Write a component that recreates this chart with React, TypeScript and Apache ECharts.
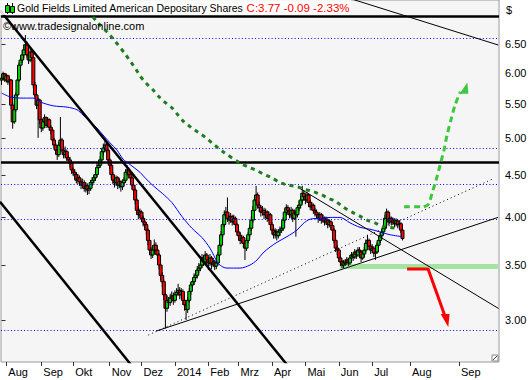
import React, { useEffect, useRef } from "react";
import * as echarts from "echarts";

const FONT = "'Liberation Sans', Arial, sans-serif";

// daily candles [open, close, low, high], index = trading day (0 = 29 Jul 2013)
const candles: number[][] = [
  [5.88,5.91,5.80,5.98],[5.91,5.98,5.88,6.02],[5.98,5.88,5.85,6.00],[5.88,5.95,5.84,5.99],[5.95,5.85,5.80,5.97],
  [5.85,5.88,5.78,5.93],[5.88,5.48,5.42,5.90],[5.48,5.23,5.13,5.52],[5.23,5.41,5.20,5.45],[5.41,5.64,5.38,5.68],
  [5.64,5.88,5.60,5.92],[5.88,6.13,5.85,6.18],[6.13,6.22,6.08,6.30],[6.22,6.31,6.17,6.40],[6.31,6.40,6.25,6.50],
  [6.40,6.49,6.35,6.67],[6.49,6.31,6.26,6.55],[6.31,6.22,6.15,6.35],[6.22,6.36,6.18,6.42],[6.36,6.26,6.20,6.40],
  [6.26,5.80,5.75,6.28],[5.80,5.64,5.58,5.85],[5.64,5.48,5.42,5.68],[5.48,5.56,5.00,5.60],[5.56,5.26,5.20,5.58],
  [5.26,5.14,5.08,5.28],[5.14,5.23,5.10,5.27],[5.23,5.29,5.18,5.34],[5.29,5.18,5.14,5.31],[5.18,5.26,5.15,5.30],
  [5.26,5.15,5.10,5.28],[5.15,5.11,5.05,5.18],[5.11,4.97,4.93,5.13],[4.97,4.90,4.85,5.00],[4.90,4.83,4.78,4.93],
  [4.83,4.77,4.70,4.86],[4.77,4.90,4.74,4.95],[4.90,4.97,4.86,5.30],[4.97,4.83,4.80,5.00],[4.83,4.77,4.72,4.86],
  [4.77,4.81,4.72,4.88],[4.81,4.73,4.68,4.84],[4.73,4.70,4.65,4.76],[4.70,4.66,4.60,4.74],[4.66,4.57,4.52,4.68],
  [4.57,4.54,4.49,4.60],[4.54,4.51,4.45,4.58],[4.51,4.44,4.40,4.54],[4.44,4.47,4.39,4.52],[4.47,4.42,4.37,4.50],
  [4.42,4.38,4.33,4.45],[4.38,4.41,4.34,4.46],[4.41,4.34,4.30,4.44],[4.34,4.37,4.29,4.41],[4.37,4.32,4.26,4.40],
  [4.32,4.34,4.27,4.38],[4.34,4.41,4.31,4.44],[4.41,4.44,4.37,4.48],[4.44,4.47,4.40,4.51],[4.47,4.51,4.43,4.55],
  [4.51,4.60,4.48,4.66],[4.60,4.63,4.56,4.70],[4.63,4.70,4.60,4.75],[4.70,4.81,4.67,4.85],[4.81,4.86,4.76,4.92],
  [4.86,4.90,4.80,5.00],[4.90,4.83,4.78,4.94],[4.83,4.70,4.66,4.85],[4.70,4.63,4.58,4.73],[4.63,4.51,4.46,4.65],
  [4.51,4.44,4.39,4.54],[4.44,4.41,4.35,4.47],[4.41,4.47,4.37,4.50],[4.47,4.38,4.33,4.49],[4.38,4.42,4.34,4.46],
  [4.42,4.36,4.30,4.44],[4.36,4.41,4.32,4.45],[4.41,4.44,4.37,4.48],[4.44,4.54,4.41,4.58],[4.54,4.57,4.50,4.63],
  [4.57,4.51,4.46,4.60],[4.51,4.47,4.42,4.54],[4.47,4.38,4.33,4.49],[4.38,4.32,4.26,4.40],[4.32,4.20,4.15,4.34],
  [4.20,4.08,4.03,4.22],[4.08,4.03,3.98,4.12],[4.03,4.06,3.99,4.10],[4.06,3.99,3.95,4.08],[3.99,3.95,3.90,4.02],
  [3.95,3.92,3.86,3.98],[3.92,3.86,3.81,3.94],[3.86,3.75,3.70,3.88],[3.75,3.65,3.60,3.77],[3.65,3.60,3.56,3.68],
  [3.60,3.65,3.57,3.70],[3.65,3.70,3.61,3.76],[3.70,3.65,3.60,3.73],[3.65,3.60,3.55,3.68],[3.60,3.50,3.46,3.62],
  [3.50,3.40,3.36,3.52],[3.40,3.34,3.29,3.43],[3.34,3.22,3.17,3.36],[3.22,3.10,2.93,3.24],[3.10,3.17,3.07,3.21],
  [3.17,3.15,3.10,3.20],[3.15,3.19,3.12,3.23],[3.19,3.21,3.16,3.25],[3.21,3.17,3.13,3.24],[3.17,3.22,3.15,3.26],
  [3.22,3.24,3.19,3.28],[3.24,3.26,3.21,3.32],[3.26,3.22,3.18,3.29],[3.22,3.25,3.19,3.28],[3.25,3.17,3.13,3.27],
  [3.17,3.13,3.08,3.19],[3.13,3.09,3.00,3.15],[3.09,3.17,3.06,3.20],[3.17,3.25,3.15,3.28],[3.25,3.31,3.22,3.34],
  [3.31,3.34,3.28,3.37],[3.34,3.38,3.31,3.42],[3.38,3.40,3.35,3.45],[3.40,3.45,3.37,3.49],[3.45,3.47,3.42,3.52],
  [3.47,3.50,3.44,3.55],[3.50,3.57,3.47,3.61],[3.57,3.53,3.49,3.60],[3.53,3.60,3.50,3.64],[3.60,3.55,3.50,3.62],
  [3.55,3.52,3.45,3.58],[3.52,3.57,3.49,3.61],[3.57,3.51,3.46,3.59],[3.51,3.53,3.48,3.57],[3.53,3.49,3.45,3.55],
  [3.49,3.52,3.46,3.56],[3.52,3.60,3.50,3.63],[3.60,3.70,3.58,3.74],[3.70,3.81,3.68,3.85],[3.81,3.92,3.78,3.96],
  [3.92,4.03,3.89,4.08],[4.03,4.06,3.99,4.12],[4.06,3.99,3.95,4.23],[3.99,3.97,3.92,4.03],[3.97,4.01,3.94,4.05],
  [4.01,3.95,3.91,4.03],[3.95,3.99,3.92,4.03],[3.99,3.92,3.88,4.01],[3.92,3.84,3.80,3.94],[3.84,3.80,3.75,3.87],
  [3.80,3.75,3.71,3.83],[3.75,3.78,3.72,3.81],[3.78,3.72,3.68,3.80],[3.72,3.67,3.55,3.74],[3.67,3.75,3.64,3.78],
  [3.75,3.81,3.72,3.84],[3.81,3.88,3.78,3.92],[3.88,3.97,3.85,4.01],[3.97,4.08,3.94,4.13],[4.08,4.20,4.05,4.26],
  [4.20,4.26,4.16,4.37],[4.26,4.14,4.10,4.29],[4.14,4.11,4.06,4.18],[4.11,4.06,4.01,4.14],[4.06,4.08,4.02,4.13],
  [4.08,4.03,3.98,4.11],[4.03,4.06,3.99,4.10],[4.06,3.99,3.95,4.08],[3.99,4.03,3.96,4.07],[4.03,3.92,3.88,4.05],
  [3.92,3.86,3.82,3.95],[3.86,3.81,3.77,3.89],[3.81,3.84,3.77,3.88],[3.84,3.80,3.75,3.87],[3.80,3.84,3.77,3.87],
  [3.84,3.86,3.80,3.90],[3.86,3.88,3.83,3.92],[3.88,3.97,3.85,4.00],[3.97,4.06,3.94,4.10],[4.06,4.11,4.02,4.15],
  [4.11,4.08,4.03,4.14],[4.08,4.03,3.99,4.11],[4.03,4.08,4.00,4.12],[4.08,3.99,3.95,4.10],[3.99,4.05,3.97,4.09],
  [4.05,4.03,3.79,4.08],[4.03,4.11,4.00,4.14],[4.11,4.14,4.07,4.19],[4.14,4.20,4.10,4.25],[4.20,4.28,4.16,4.37],
  [4.28,4.24,4.19,4.32],[4.24,4.20,4.15,4.27],[4.20,4.26,4.17,4.30],[4.26,4.17,4.12,4.28],[4.17,4.12,4.08,4.20],
  [4.12,4.14,4.08,4.18],[4.14,4.08,4.04,4.16],[4.08,4.06,4.01,4.11],[4.06,4.03,3.98,4.09],[4.03,3.99,3.94,4.05],
  [3.99,4.03,3.96,4.06],[4.03,3.97,3.93,4.05],[3.97,3.99,3.94,4.03],[3.99,3.95,3.91,4.01],[3.95,3.97,3.92,4.01],
  [3.97,3.92,3.88,3.99],[3.92,3.95,3.89,3.98],[3.95,3.91,3.86,3.97],[3.91,3.86,3.82,3.93],[3.86,3.75,3.72,3.88],
  [3.75,3.67,3.63,3.77],[3.67,3.65,3.60,3.70],[3.65,3.57,3.53,3.67],[3.57,3.53,3.49,3.59],[3.53,3.50,3.47,3.55],
  [3.50,3.52,3.47,3.55],[3.52,3.53,3.49,3.56],[3.53,3.55,3.50,3.58],[3.55,3.52,3.49,3.57],[3.52,3.57,3.50,3.60],
  [3.57,3.60,3.54,3.63],[3.60,3.58,3.54,3.62],[3.58,3.63,3.56,3.66],[3.63,3.60,3.56,3.65],[3.60,3.65,3.58,3.68],
  [3.65,3.63,3.59,3.68],[3.63,3.57,3.53,3.65],[3.57,3.61,3.55,3.64],[3.61,3.65,3.58,3.68],[3.65,3.72,3.63,3.76],
  [3.72,3.75,3.69,3.81],[3.75,3.69,3.65,3.77],[3.69,3.65,3.61,3.71],[3.65,3.67,3.62,3.71],[3.67,3.62,3.58,3.69],
  [3.62,3.63,3.55,3.66],[3.63,3.70,3.61,3.73],[3.70,3.75,3.67,3.78],[3.75,3.80,3.72,3.83],[3.80,3.84,3.77,3.87],
  [3.84,3.88,3.81,3.92],[3.88,3.99,3.86,4.03],[3.99,4.06,3.96,4.10],[4.06,3.95,3.91,4.08],[3.95,3.99,3.92,4.02],
  [3.99,3.95,3.91,4.01],[3.95,3.97,3.92,4.00],[3.97,3.93,3.89,3.99],[3.93,3.96,3.90,3.99],[3.96,3.92,3.88,3.98],
  [3.92,3.93,3.89,3.97],[3.93,3.86,3.83,3.95],[3.86,3.77,3.75,3.89],
];

// blue moving average [index, price]
const maShort: number[][] = [
  [0,5.67],[5.3,5.61],[11.6,5.59],[19.8,5.59],[24.2,5.53],[32.4,5.47],[41.2,5.45],[47.4,5.41],[51.2,5.33],
  [55.6,5.23],[60,5.14],[63.8,5.04],[68.2,4.93],[72.6,4.83],[76.4,4.71],[80.7,4.64],[87,4.54],[90.2,4.47],
  [95.4,4.37],[101,4.28],[107.1,4.17],[113.4,4.01],[119.7,3.88],[126,3.78],[131,3.67],[136,3.52],[139.2,3.48],
  [141.7,3.47],[149.9,3.47],[156.2,3.50],[160.6,3.55],[164.3,3.62],[168.7,3.68],[173.1,3.73],[179.4,3.79],
  [185.7,3.86],[189.5,3.93],[193.9,3.98],[200.2,3.99],[206.5,4.00],[212.7,4.00],[219,3.94],[225.3,3.89],
  [231.6,3.87],[237.9,3.84],[244.2,3.81],[251.7,3.79],
];

// dark green dashed long average [index, price]
const maLong: number[][] = [
  [57.5,7.02],[60,6.92],[66.9,6.71],[71.3,6.56],[77.6,6.33],[81.4,6.18],[84.5,6.06],[87,5.95],[90.8,5.83],
  [95.2,5.72],[99,5.61],[103.4,5.51],[107.1,5.44],[110.9,5.33],[114.7,5.23],[119.1,5.15],[123.5,5.08],
  [127.9,5.01],[132.3,4.93],[139.2,4.81],[149.9,4.66],[154.9,4.61],[160.6,4.56],[164.3,4.52],[170,4.47],
  [175,4.41],[180.1,4.38],[185.7,4.36],[190.1,4.33],[195.8,4.30],[201.4,4.26],[205.2,4.22],[209.6,4.19],
  [214.6,4.12],[220.3,4.06],[224.7,4.02],[229.7,3.97],[234.7,3.94],[239.1,3.90],[242.9,3.89],[249.2,3.88],
];

// trend lines [index, price]
const channelUpper: number[][] = [[-0.96,7.15],[181.3,2.619]];
const channelLower: number[][] = [[-0.96,4.18],[83.9,2.609]];
const supportSolid: number[][] = [[97.5,2.909],[312.04,4.0]];
const supportDotted: number[][] = [[92.25,2.876],[308.1,4.45]];
const resistFalling: number[][] = [[188.2,4.33],[312.4,3.098]];
const upperFalling: number[][] = [[212.7,7.457],[312.2,6.487]];

// horizontal levels
const blueLevels = [6.65, 4.87, 4.405, 3.99, 2.917];
const blackLevels = [7.06, 4.68];
const bandLevels = [3.51, 3.46];
const bandStart = 212.7;
const bandEnd = 312.0;

// projection arrows
const greenPath: number[][] = [[253,4.12],[264.9,4.12],[268.4,4.15],[270.6,4.28],[273.1,4.44],[275.6,4.63],[278.1,4.83],[280,5.04],[282.5,5.26],[285,5.48],[288.4,5.69]];
const greenHead: number[][] = [[287.9,5.66],[292.8,5.84],[293.4,5.66]];
const redPath: number[][] = [[254.9,3.461],[268.1,3.461],[278.7,3.034]];
const redHead: number[][] = [[276.0,3.051],[281.6,3.051],[280.8,2.942]];

// axes
const monthTicks = [3,25,45,68,88,109,130,149,170,191,212,233,256.7,287.5];
const monthLabels = ["Aug","Sep","Okt","Nov","Dez","2014","Feb","Mrz","Apr","Mai","Jun","Jul","Aug","Sep"];
const priceTicks = [3.0,3.5,4.0,4.5,5.0,5.5,6.0,6.5];
const priceMin = 2.6665;
const priceMax = 7.36;
const indexMin = -0.333;
const indexMax = 312.67;

const LN = Math.log;
const toXY = (pts: number[][]) => pts.map((p) => [p[0], LN(p[1])]);

function App() {
  const ref = useRef<HTMLDivElement>(null);
  useEffect(() => {
    if (!ref.current) return;
    const chart = echarts.init(ref.current, undefined, { renderer: "svg" });
    const last = candles[candles.length - 1][1];
    const prev = candles[candles.length - 2][1];
    const chg = last - prev;
    const pct = (chg / prev) * 100;
    const titleRed = ` C:${last.toFixed(2)} ${chg.toFixed(2)} ${pct.toFixed(2)}%`;

    const candleData = candles.map((d, i) => [i, LN(d[0]), LN(d[1]), LN(d[2]), LN(d[3])]);

    const trend = (pts: number[][], color: string, width: number, type: any = "solid", z = 5) => ({
      type: "line",
      data: toXY(pts),
      symbol: "none",
      silent: true,
      clip: true,
      z,
      lineStyle: { color, width, type },
    });

    const head = (pts: number[][], color: string) => ({
      type: "custom",
      silent: true,
      z: 8,
      data: [[pts[0][0], LN(pts[0][1]), pts[1][0], LN(pts[1][1]), pts[2][0], LN(pts[2][1])]],
      encode: { x: [0, 2, 4], y: [1, 3, 5] },
      renderItem: (_p: any, api: any) => {
        const a = api.coord([api.value(0), api.value(1)]);
        const b = api.coord([api.value(2), api.value(3)]);
        const c = api.coord([api.value(4), api.value(5)]);
        return { type: "polygon", shape: { points: [a, b, c] }, style: { fill: color } };
      },
    });

    const option: any = {
      animation: false,
      backgroundColor: "#ffffff",
      grid: {
        left: 1, right: 31, top: 0, bottom: 18, show: true,
        backgroundColor: "#f5f5f5", borderColor: "#9a9a9a", borderWidth: 1,
      },
      xAxis: {
        type: "value", min: indexMin, max: indexMax,
        axisLine: { show: false },
        splitLine: { show: false },
        axisTick: { show: true, customValues: monthTicks, length: 4, lineStyle: { color: "#333" } },
        axisLabel: {
          customValues: monthTicks,
          formatter: (v: number) => {
            let best = 0;
            monthTicks.forEach((t, k) => { if (Math.abs(t - v) < Math.abs(monthTicks[best] - v)) best = k; });
            return monthLabels[best];
          },
          align: "left", margin: 4, padding: [0, 0, 0, 2],
          fontSize: 11, fontFamily: FONT, color: "#000",
        },
      },
      yAxis: {
        type: "value", position: "right", min: LN(priceMin), max: LN(priceMax),
        axisLine: { show: false },
        splitLine: { show: false },
        axisTick: { show: true, customValues: priceTicks.map(LN), length: 4, lineStyle: { color: "#333" } },
        axisLabel: {
          customValues: priceTicks.map(LN),
          formatter: (v: number) => Math.exp(v).toFixed(2),
          margin: 6, fontSize: 11, fontFamily: FONT, color: "#000",
        },
      },
      series: [
        {
          type: "line", data: [[0, LN(5)]], symbol: "none", silent: true, z: 1,
          lineStyle: { opacity: 0 },
          markLine: {
            silent: true, symbol: ["none", "none"], label: { show: false },
            data: [
              ...blueLevels.map((v) => ({ yAxis: LN(v), lineStyle: { color: "#0000ff", width: 1, type: [1, 2.3] } })),
              ...blackLevels.map((v) => ({ yAxis: LN(v), lineStyle: { color: "#000", width: 2.5, type: "solid" } })),
            ],
          },
          markArea: {
            silent: true,
            itemStyle: { color: "#a4e4a0" },
            data: [[{ coord: [bandStart, LN(bandLevels[0])] }, { coord: [bandEnd, LN(bandLevels[1])] }]],
          },
        },
        {
          type: "custom", silent: true, z: 3,
          data: candleData,
          encode: { x: 0, y: [1, 2, 3, 4] },
          renderItem: (_p: any, api: any) => {
            const x = api.value(0);
            const o = api.value(1), c = api.value(2), l = api.value(3), h = api.value(4);
            const pO = api.coord([x, o]);
            const pC = api.coord([x, c]);
            const pL = api.coord([x, l]);
            const pH = api.coord([x, h]);
            const top = Math.min(pO[1], pC[1]);
            const bot = Math.max(pO[1], pC[1]);
            const up = c >= o;
            return {
              type: "group",
              children: [
                { type: "line", shape: { x1: pL[0], y1: pL[1], x2: pH[0], y2: pH[1] }, style: { stroke: "#000", lineWidth: 1 } },
                { type: "rect", shape: { x: pO[0] - 1.5, y: top, width: 3, height: Math.max(bot - top, 1) },
                  style: { fill: up ? "#00d200" : "#ff0000", stroke: "#000", lineWidth: 1 } },
              ],
            };
          },
        },
        { ...trend(maShort, "#0000ff", 1), smooth: 0.3 },
        { ...trend(maLong, "#1f7d1f", 3, [4, 4.5]), smooth: 0.3 },
        trend(channelUpper, "#000", 2.5),
        trend(channelLower, "#000", 2.5),
        trend(supportSolid, "#000", 1),
        trend(supportDotted, "#000", 1, [1, 3]),
        trend(resistFalling, "#000", 1),
        trend(upperFalling, "#000", 1),
        { ...trend(greenPath, "#3cc83c", 3, [6, 4], 8), smooth: 0.2 },
        trend(redPath, "#ff0000", 3, "solid", 8),
        head(greenHead, "#3cc83c"),
        head(redHead, "#ff0000"),
      ],
      graphic: [
        { type: "rect", z: 100, shape: { x: 0, y: 0, width: 351, height: 15 }, style: { fill: "rgba(255,255,255,0.85)" } },
        { type: "line", z: 101, shape: { x1: 7.5, y1: 3, x2: 7.5, y2: 14 }, style: { stroke: "#000", lineWidth: 1 } },
        { type: "line", z: 101, shape: { x1: 12.5, y1: 3, x2: 12.5, y2: 14 }, style: { stroke: "#000", lineWidth: 1 } },
        { type: "rect", z: 102, shape: { x: 5.5, y: 5.5, width: 4, height: 7 }, style: { fill: "#00e000", stroke: "#000", lineWidth: 1 } },
        { type: "rect", z: 102, shape: { x: 10.5, y: 6.5, width: 4, height: 6 }, style: { fill: "#00e000", stroke: "#000", lineWidth: 1 } },
        {
          type: "text", z: 103, x: 17, y: 8,
          style: {
            text: `{a|Gold Fields Limited American Depositary Shares}{b|${titleRed}}`,
            rich: {
              a: { fill: "#000", fontSize: 10.5, fontFamily: FONT },
              b: { fill: "#ff0000", fontSize: 11.5, fontFamily: FONT },
            },
            verticalAlign: "middle",
          },
        },
        {
          type: "text", z: 103, x: 3, y: 26,
          style: { text: "©www.tradesignalonline.com", fill: "#000", fontSize: 11, fontFamily: FONT, verticalAlign: "middle" },
        },
        {
          type: "text", z: 103, x: 506, y: 10,
          style: { text: "$", fill: "#000", fontSize: 11, fontFamily: FONT, verticalAlign: "middle" },
        },
        { type: "rect", z: 103, shape: { x: 492, y: 355, width: 6, height: 6 }, style: { fill: "#fff", stroke: "#888", lineWidth: 1 } },
        { type: "line", z: 104, shape: { x1: 493, y1: 360, x2: 497, y2: 356 }, style: { stroke: "#444", lineWidth: 1 } },
      ],
    };
    chart.setOption(option);
    return () => chart.dispose();
  }, []);
  return <div ref={ref} style={{ width: 530, height: 380, position: "absolute", left: 0, top: 0 }} />;
}

export default App;
